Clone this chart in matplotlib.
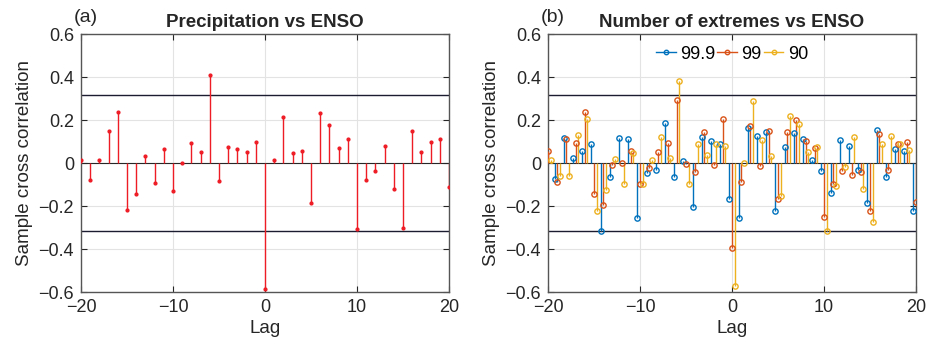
import numpy as np
import matplotlib
matplotlib.use("Agg")
from matplotlib import pyplot as plt
from matplotlib.legend_handler import HandlerLine2D

plt.rcParams['font.family'] = ['Liberation Sans', 'DejaVu Sans']
plt.rcParams['axes.unicode_minus'] = True

lags = np.arange(-20, 21)

# precipitation vs ENSO
precip = [0.012, -0.079, 0.014, 0.148, 0.236, -0.219, -0.143, 0.031, -0.092, 0.064,
          -0.129, -0.002, 0.095, 0.050, 0.410, -0.082, 0.075, 0.064, 0.053, 0.096,
          -0.586, 0.014, 0.213, 0.047, 0.054, -0.186, 0.233, 0.179, 0.068, 0.110,
          -0.309, -0.078, -0.037, 0.081, -0.121, -0.303, 0.148, 0.053, 0.099, 0.113,
          -0.113]

# number of extremes vs ENSO, three thresholds
ext_999 = [np.nan, -0.076, 0.117, 0.022, 0.057, 0.087, -0.317, -0.064, 0.118, 0.112,
           -0.255, -0.048, -0.034, 0.185, -0.067, 0.008, -0.204, 0.120, 0.101, 0.087,
           -0.166, -0.255, 0.165, 0.127, 0.145, -0.221, 0.076, 0.138, 0.113, 0.012,
           -0.039, -0.138, 0.106, 0.081, -0.034, -0.185, 0.152, -0.067, 0.067, 0.054,
           -0.225]
ext_99 = [0.057, -0.089, 0.113, 0.095, 0.239, -0.143, -0.193, -0.011, -0.002, 0.056,
          -0.099, -0.023, 0.053, 0.095, 0.291, -0.003, -0.040, 0.146, -0.011, 0.204,
          -0.393, -0.087, 0.174, -0.016, 0.149, -0.166, 0.146, 0.202, 0.104, 0.071,
          -0.253, -0.099, -0.039, -0.057, -0.040, -0.224, 0.134, -0.033, 0.090, 0.098,
          -0.183]
ext_90 = [0.012, -0.062, -0.061, 0.129, 0.207, -0.222, -0.127, 0.017, -0.096, 0.045,
          -0.096, 0.014, 0.123, 0.023, 0.382, -0.096, 0.090, 0.039, 0.090, 0.081,
          -0.572, 0.002, 0.289, 0.106, 0.033, -0.152, 0.218, 0.183, 0.050, 0.075,
          -0.317, -0.109, -0.020, 0.123, -0.123, -0.275, 0.089, 0.127, 0.089, 0.062,
          np.nan]
series_names = ["99.9", "99", "90"]
series_colors = ["#0072BD", "#D95319", "#EDB120"]

bound = 0.318


class StemHandler(HandlerLine2D):
    # marker at the right end of the legend line, like a stem legend
    def get_xdata(self, legend, xdescent, ydescent, width, height, fontsize):
        xdata = np.array([-xdescent, -xdescent + width])
        return xdata, np.array([-xdescent + width])


fig = plt.figure(figsize=(9.28, 3.46), dpi=100)
ax1 = fig.add_axes([0.0873, 0.156, 0.3966, 0.7457])
ax2 = fig.add_axes([0.5905, 0.156, 0.3966, 0.7457])


def style(ax, title, tag):
    ax.set_xlim(-20, 20)
    ax.set_ylim(-0.6, 0.6)
    ax.set_xticks([-20, -10, 0, 10, 20])
    ax.set_yticks(np.round(np.arange(-0.6, 0.61, 0.2), 1))
    ax.set_yticklabels(["\u22120.6", "\u22120.4", "\u22120.2", "0", "0.2", "0.4", "0.6"])
    ax.set_xticklabels(["\u221220", "\u221210", "0", "10", "20"])
    ax.grid(True, color="#e3e3e3", linewidth=0.8)
    ax.set_axisbelow(True)
    ax.tick_params(direction="in", length=4, width=0.8, top=True, right=True,
                   labelsize=13, colors="#262626", pad=5)
    for s in ax.spines.values():
        s.set_color("#555555")
        s.set_linewidth(1.0)
    ax.set_xlabel("Lag", fontsize=13.5, color="#262626", labelpad=3)
    ax.set_ylabel("Sample cross correlation", fontsize=13.5, color="#262626", labelpad=4)
    ax.set_title(title, fontsize=13.5, fontweight="bold", color="#262626", pad=5)
    ax.text(-0.02, 1.03, tag, transform=ax.transAxes, fontsize=14, color="#262626",
            ha="left", va="bottom")
    ax.axhline(bound, color="#1c1c30", linewidth=1.0, zorder=1)
    ax.axhline(-bound, color="#1c1c30", linewidth=1.0, zorder=1)


# (a)
style(ax1, "Precipitation vs ENSO", "(a)")
ax1.axhline(0, color="#262626", linewidth=0.8, zorder=2)
ax1.vlines(lags, 0, precip, color="#ee1c25", linewidth=1.0, zorder=3)
ax1.plot(lags, precip, ".", color="#ee1c25", markersize=4, zorder=4)

# (b)
style(ax2, "Number of extremes vs ENSO", "(b)")
ax2.axhline(0, color="#262626", linewidth=0.8, zorder=2)
offsets = [-0.28, 0.0, 0.28]
handles = []
for vals, name, col, off in zip([ext_999, ext_99, ext_90], series_names, series_colors, offsets):
    x = lags + off
    ax2.vlines(x, 0, vals, color=col, linewidth=1.0, zorder=3)
    ax2.plot(x, vals, "o", color=col, markersize=3.8,
             markerfacecolor="none", markeredgewidth=1.0, zorder=4)
    h, = ax2.plot([], [], "-o", color=col, markersize=3.2, markerfacecolor="none",
                  markeredgewidth=1.0, linewidth=1.0, label=name)
    handles.append(h)

ax2.legend(handles=handles, loc="upper center", ncol=3, frameon=False, fontsize=13,
           handlelength=1.1, handletextpad=0.25, columnspacing=0.1,
           borderaxespad=0.25, handler_map={h: StemHandler() for h in handles})

fig.savefig("out.png", dpi=100)
